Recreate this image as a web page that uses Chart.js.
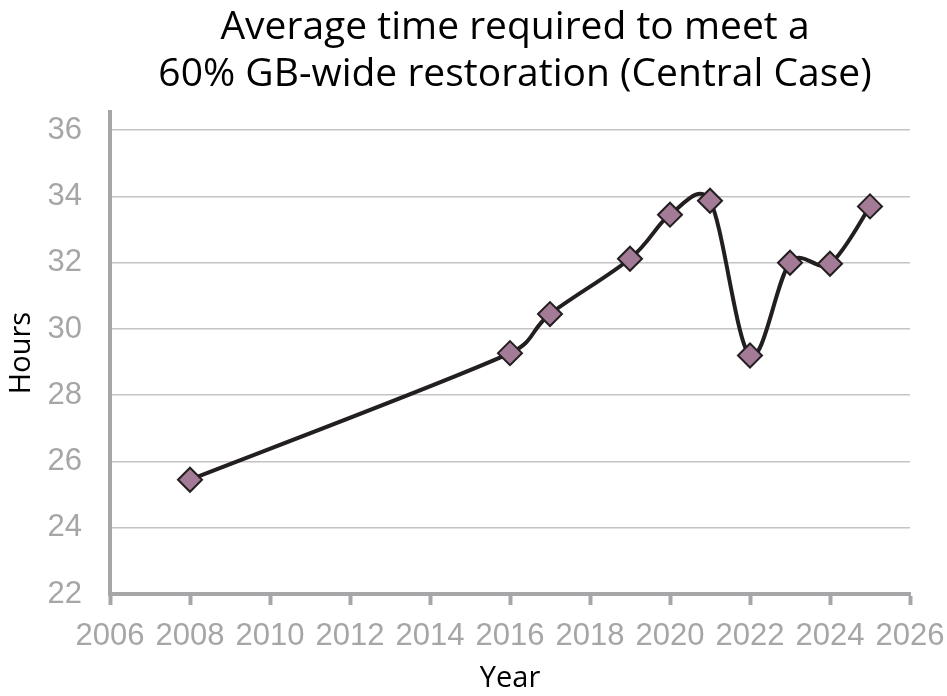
<!DOCTYPE html>
<html>
<head>
<meta charset="utf-8">
<script src="https://cdn.jsdelivr.net/npm/chart.js@4/dist/chart.umd.min.js"></script>
<style>
  html, body { margin: 0; padding: 0; background: #ffffff; }
  #wrap { width: 947px; height: 696px; }
</style>
</head>
<body>
<div id="wrap"><canvas id="c" width="947" height="696"></canvas></div>
<script>
// Restoration time, central case
const years = [2008, 2016, 2017, 2019, 2020, 2021, 2022, 2023, 2024, 2025];
const hours = [25.45, 29.27, 30.45, 32.12, 33.45, 33.87, 29.2, 32.0, 31.97, 33.7];
const yTickValues = [22, 24, 26, 28, 30, 32, 34, 36];
const titleLines = ['Average time required to meet a', '60% GB-wide restoration (Central Case)'];
const xTitle = 'Year';
const yTitle = 'Hours';

const AXIS_GREY = '#a6a6a8';
const GRID_GREY = '#c4c4c4';
const INK = '#231f20';
const TITLE_FONT = '"Open Sans", "Noto Sans", sans-serif';
const TICK_FONT = '"Liberation Sans", Arial, sans-serif';

// Two-line title centred over the plot area
const plotTitle = {
  id: 'plotTitle',
  afterDraw(chart) {
    const { ctx, chartArea } = chart;
    const cx = (chartArea.left + chartArea.right) / 2 + 5;
    ctx.save();
    ctx.fillStyle = '#000000';
    ctx.font = '500 39px ' + TITLE_FONT;
    ctx.textAlign = 'center';
    ctx.textBaseline = 'middle';
    titleLines.forEach((line, i) => ctx.fillText(line, cx, 28 + i * 47));
    ctx.restore();
  }
};

// Catmull-Rom style smoothing: arms are 1/6 of the neighbour chord,
// limited to half of the segment they point into
const smoothLine = {
  id: 'smoothLine',
  beforeDatasetDraw(chart, args) {
    const line = args.meta.dataset;
    const pts = args.meta.data;
    if (!line || pts.length < 2) return;
    line.updateControlPoints(chart.chartArea);
    const k = 1 / 6;
    const cap = 0.5;
    pts.forEach((p, i) => {
      const prev = pts[Math.max(i - 1, 0)];
      const next = pts[Math.min(i + 1, pts.length - 1)];
      const dx = (next.x - prev.x) * k;
      const dy = (next.y - prev.y) * k;
      const arm = Math.hypot(dx, dy) || 1;
      const segPrev = Math.hypot(p.x - prev.x, p.y - prev.y);
      const segNext = Math.hypot(next.x - p.x, next.y - p.y);
      const s1 = Math.min(1, (cap * segPrev) / arm);
      const s2 = Math.min(1, (cap * segNext) / arm);
      p.cp1x = p.x - dx * s1; p.cp1y = p.y - dy * s1;
      p.cp2x = p.x + dx * s2; p.cp2y = p.y + dy * s2;
    });
    line._path = undefined;
  }
};

new Chart(document.getElementById('c'), {
  type: 'line',
  data: {
    datasets: [{
      data: years.map((x, i) => ({ x, y: hours[i] })),
      borderColor: INK,
      borderWidth: 4,
      tension: 0.3,
      pointStyle: 'rectRot',
      pointRadius: 12,
      pointHoverRadius: 12,
      pointBackgroundColor: '#a47b97',
      pointBorderColor: INK,
      pointBorderWidth: 2
    }]
  },
  options: {
    responsive: false,
    animation: false,
    layout: { padding: { top: 112, right: 37, left: 0, bottom: 0 } },
    plugins: {
      legend: { display: false },
      tooltip: { enabled: false },
      title: { display: false }
    },
    scales: {
      x: {
        type: 'linear',
        min: 2006,
        max: 2026,
        afterFit(scale) {
          scale.height = 102;
          scale.paddingLeft = 0;
          scale.paddingRight = 0;
        },
        border: { color: AXIS_GREY, width: 4 },
        grid: {
          drawOnChartArea: false,
          drawTicks: true,
          tickLength: 11,
          tickWidth: 4,
          tickColor: AXIS_GREY
        },
        ticks: {
          stepSize: 2,
          color: AXIS_GREY,
          padding: 13,
          maxRotation: 0,
          autoSkip: false,
          font: { family: TICK_FONT, size: 31 },
          callback: v => String(v)
        },
        title: {
          display: true,
          text: xTitle,
          color: '#000000',
          font: { family: TITLE_FONT, size: 29, weight: '500' },
          padding: { top: 0, bottom: 0 }
        }
      },
      y: {
        min: 22,
        max: 36.55,
        afterFit(scale) { scale.width = 110; },
        afterBuildTicks(scale) {
          scale.ticks = yTickValues.map(value => ({ value }));
        },
        border: { color: AXIS_GREY, width: 4 },
        grid: {
          color: GRID_GREY,
          lineWidth: 1.5,
          drawTicks: false
        },
        ticks: {
          color: AXIS_GREY,
          padding: 28,
          font: { family: TICK_FONT, size: 31 }
        },
        title: {
          display: true,
          text: yTitle,
          color: '#000000',
          font: { family: TITLE_FONT, size: 29, weight: '500' },
          padding: { top: 4, bottom: 0 }
        }
      }
    }
  },
  plugins: [plotTitle, smoothLine]
});
</script>
</body>
</html>
